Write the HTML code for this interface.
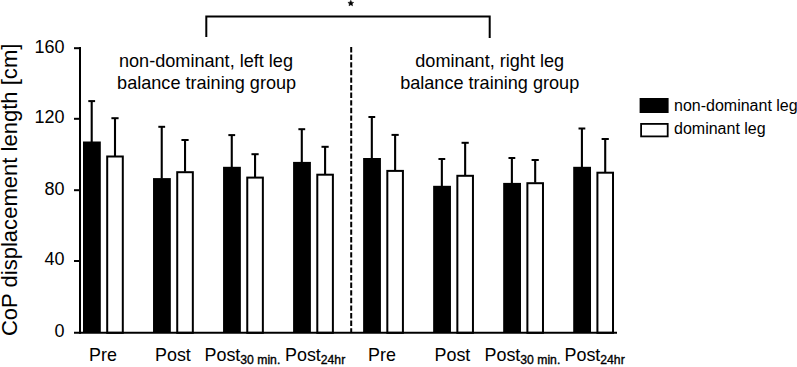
<!DOCTYPE html>
<html><head><meta charset="utf-8"><style>
html,body{margin:0;padding:0;background:#fff;}
body{width:797px;height:367px;overflow:hidden;}
svg{display:block;font-family:"Liberation Sans",sans-serif;}
</style></head><body>
<svg width="797" height="367" viewBox="0 0 797 367">
<rect x="83.00" y="141.50" width="17.8" height="191.30" fill="#000"/>
<line x1="91.70" y1="142.00" x2="91.70" y2="101.00" stroke="#000" stroke-width="2.1"/>
<line x1="88.30" y1="101.10" x2="95.10" y2="101.10" stroke="#000" stroke-width="2"/>
<rect x="107.20" y="156.50" width="15.6" height="176.30" fill="#fff" stroke="#000" stroke-width="2"/>
<line x1="115.00" y1="156.00" x2="115.00" y2="118.10" stroke="#000" stroke-width="2.1"/>
<line x1="111.40" y1="118.20" x2="118.60" y2="118.20" stroke="#000" stroke-width="2"/>
<rect x="153.03" y="178.10" width="17.8" height="154.70" fill="#000"/>
<line x1="161.73" y1="178.60" x2="161.73" y2="126.70" stroke="#000" stroke-width="2.1"/>
<line x1="158.33" y1="126.80" x2="165.13" y2="126.80" stroke="#000" stroke-width="2"/>
<rect x="177.23" y="172.20" width="15.6" height="160.60" fill="#fff" stroke="#000" stroke-width="2"/>
<line x1="185.03" y1="171.70" x2="185.03" y2="139.90" stroke="#000" stroke-width="2.1"/>
<line x1="181.43" y1="140.00" x2="188.63" y2="140.00" stroke="#000" stroke-width="2"/>
<rect x="223.06" y="166.80" width="17.8" height="166.00" fill="#000"/>
<line x1="231.76" y1="167.30" x2="231.76" y2="135.00" stroke="#000" stroke-width="2.1"/>
<line x1="228.36" y1="135.10" x2="235.16" y2="135.10" stroke="#000" stroke-width="2"/>
<rect x="247.26" y="177.60" width="15.6" height="155.20" fill="#fff" stroke="#000" stroke-width="2"/>
<line x1="255.06" y1="177.10" x2="255.06" y2="154.10" stroke="#000" stroke-width="2.1"/>
<line x1="251.46" y1="154.20" x2="258.66" y2="154.20" stroke="#000" stroke-width="2"/>
<rect x="293.09" y="161.90" width="17.8" height="170.90" fill="#000"/>
<line x1="301.79" y1="162.40" x2="301.79" y2="129.10" stroke="#000" stroke-width="2.1"/>
<line x1="298.39" y1="129.20" x2="305.19" y2="129.20" stroke="#000" stroke-width="2"/>
<rect x="317.29" y="174.70" width="15.6" height="158.10" fill="#fff" stroke="#000" stroke-width="2"/>
<line x1="325.09" y1="174.20" x2="325.09" y2="146.70" stroke="#000" stroke-width="2.1"/>
<line x1="321.49" y1="146.80" x2="328.69" y2="146.80" stroke="#000" stroke-width="2"/>
<rect x="363.12" y="158.00" width="17.8" height="174.80" fill="#000"/>
<line x1="371.82" y1="158.50" x2="371.82" y2="116.90" stroke="#000" stroke-width="2.1"/>
<line x1="368.42" y1="117.00" x2="375.22" y2="117.00" stroke="#000" stroke-width="2"/>
<rect x="387.32" y="170.90" width="15.6" height="161.90" fill="#fff" stroke="#000" stroke-width="2"/>
<line x1="395.12" y1="170.40" x2="395.12" y2="134.80" stroke="#000" stroke-width="2.1"/>
<line x1="391.52" y1="134.90" x2="398.72" y2="134.90" stroke="#000" stroke-width="2"/>
<rect x="433.15" y="185.80" width="17.8" height="147.00" fill="#000"/>
<line x1="441.85" y1="186.30" x2="441.85" y2="158.90" stroke="#000" stroke-width="2.1"/>
<line x1="438.45" y1="159.00" x2="445.25" y2="159.00" stroke="#000" stroke-width="2"/>
<rect x="457.35" y="175.80" width="15.6" height="157.00" fill="#fff" stroke="#000" stroke-width="2"/>
<line x1="465.15" y1="175.30" x2="465.15" y2="142.70" stroke="#000" stroke-width="2.1"/>
<line x1="461.55" y1="142.80" x2="468.75" y2="142.80" stroke="#000" stroke-width="2"/>
<rect x="503.18" y="182.90" width="17.8" height="149.90" fill="#000"/>
<line x1="511.88" y1="183.40" x2="511.88" y2="157.90" stroke="#000" stroke-width="2.1"/>
<line x1="508.48" y1="158.00" x2="515.28" y2="158.00" stroke="#000" stroke-width="2"/>
<rect x="527.38" y="183.20" width="15.6" height="149.60" fill="#fff" stroke="#000" stroke-width="2"/>
<line x1="535.18" y1="182.70" x2="535.18" y2="159.90" stroke="#000" stroke-width="2.1"/>
<line x1="531.58" y1="160.00" x2="538.78" y2="160.00" stroke="#000" stroke-width="2"/>
<rect x="573.21" y="166.80" width="17.8" height="166.00" fill="#000"/>
<line x1="581.91" y1="167.30" x2="581.91" y2="128.40" stroke="#000" stroke-width="2.1"/>
<line x1="578.51" y1="128.50" x2="585.31" y2="128.50" stroke="#000" stroke-width="2"/>
<rect x="597.41" y="172.70" width="15.6" height="160.10" fill="#fff" stroke="#000" stroke-width="2"/>
<line x1="605.21" y1="172.20" x2="605.21" y2="138.90" stroke="#000" stroke-width="2.1"/>
<line x1="601.61" y1="139.00" x2="608.81" y2="139.00" stroke="#000" stroke-width="2"/>
<line x1="80" y1="47" x2="80" y2="333.80" stroke="#000" stroke-width="2"/>
<line x1="74" y1="332.80" x2="617" y2="332.80" stroke="#000" stroke-width="2"/>
<line x1="74" y1="48.20" x2="80" y2="48.20" stroke="#000" stroke-width="2"/>
<line x1="74" y1="118.80" x2="80" y2="118.80" stroke="#000" stroke-width="2"/>
<line x1="74" y1="190.20" x2="80" y2="190.20" stroke="#000" stroke-width="2"/>
<line x1="74" y1="261.00" x2="80" y2="261.00" stroke="#000" stroke-width="2"/>
<text x="64.6" y="52.60" text-anchor="end" font-size="18">160</text>
<text x="64.6" y="123.20" text-anchor="end" font-size="18">120</text>
<text x="64.6" y="194.60" text-anchor="end" font-size="18">80</text>
<text x="64.6" y="265.40" text-anchor="end" font-size="18">40</text>
<text x="64.6" y="337.20" text-anchor="end" font-size="18">0</text>
<line x1="351.2" y1="47" x2="351.2" y2="332" stroke="#000" stroke-width="2" stroke-dasharray="5.4 2.2"/>
<path d="M206.3 37 V16.6 H489.7 V38" fill="none" stroke="#000" stroke-width="2"/>
<polygon points="350.80,0.30 351.65,2.18 353.70,2.41 352.18,3.80 352.59,5.82 350.80,4.80 349.01,5.82 349.42,3.80 347.90,2.41 349.95,2.18" fill="#000" stroke="#000" stroke-width="0.5" stroke-linejoin="round"/>
<text x="206" y="66.5" text-anchor="middle" font-size="18.1">non-dominant, left leg</text>
<text x="206.6" y="89" text-anchor="middle" font-size="18.1">balance training group</text>
<text x="489.7" y="66.5" text-anchor="middle" font-size="18.1">dominant, right leg</text>
<text x="489.7" y="88.6" text-anchor="middle" font-size="18.1">balance training group</text>
<text x="89" y="360.5" font-size="17.9">Pre</text>
<text x="155" y="360.5" font-size="17.9">Post</text>
<text x="204.5" y="360.5" font-size="17.9">Post<tspan font-size="12.2" dy="3.6" stroke="#000" stroke-width="0.35">30 min.</tspan></text>
<text x="285" y="360.5" font-size="17.9">Post<tspan font-size="12.2" dy="3.6" stroke="#000" stroke-width="0.35">24hr</tspan></text>
<text x="368" y="360.5" font-size="17.9">Pre</text>
<text x="434.5" y="360.5" font-size="17.9">Post</text>
<text x="484.5" y="360.5" font-size="17.9">Post<tspan font-size="12.2" dy="3.6" stroke="#000" stroke-width="0.35">30 min.</tspan></text>
<text x="564.5" y="360.5" font-size="17.9">Post<tspan font-size="12.2" dy="3.6" stroke="#000" stroke-width="0.35">24hr</tspan></text>
<text transform="translate(16.8,336.1) rotate(-90)" font-size="22.05">CoP displacement length [cm]</text>
<rect x="639.6" y="98" width="29" height="15" fill="#000"/>
<rect x="641.1" y="123.9" width="26.6" height="12.5" fill="#fff" stroke="#000" stroke-width="1.8"/>
<text x="674" y="111" font-size="16">non-dominant leg</text>
<text x="674" y="134.3" font-size="16">dominant leg</text>
</svg>
</body></html>
